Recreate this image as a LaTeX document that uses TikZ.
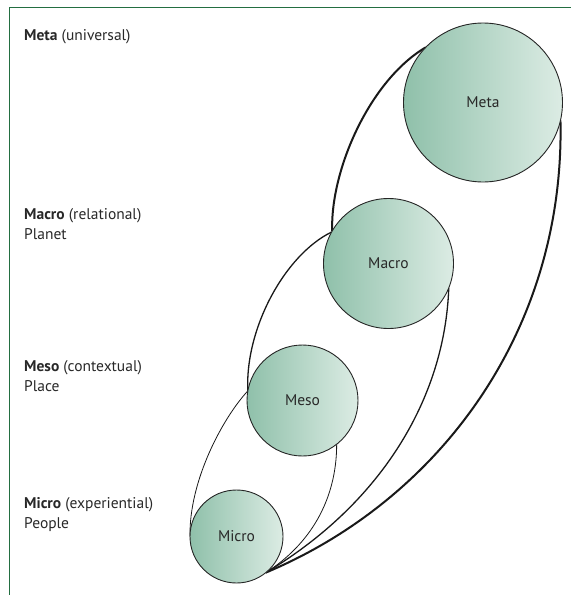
\documentclass[tikz,border=0pt]{standalone}
\usepackage{fontspec}
\setmainfont{PT Sans}
\definecolor{cl}{RGB}{143,192,170}
\definecolor{cr}{RGB}{220,236,228}
\definecolor{txt}{RGB}{40,40,40}
\definecolor{frame}{RGB}{35,110,65}
\begin{document}
\begin{tikzpicture}[x=1pt,y=-1pt,
  circ/.style={circle, draw=black!85, line width=0.9pt, left color=cl, right color=cr,
    minimum size=#1, inner sep=0pt, outer sep=0pt, font=\fontsize{15.5}{18}\selectfont, text=txt},
  envthin/.style={line width=0.8pt, draw=black!90},
  envmid/.style={line width=1.3pt, draw=black!90},
  envthick/.style={line width=2pt, draw=black!90},
  lbl/.style={anchor=base west, inner sep=0pt, font=\fontsize{15.5}{18}\selectfont, text=txt}]
\useasboundingbox (0,0) rectangle (571,595);
\draw[frame, line width=1pt] (9,595) -- (9,7) -- (571,7);

% envelopes (drawn first, circles on top)
\path (483,102.5) node[circ=159pt, draw=none, fill=none] (meta0) {}
      (388.5,263.5) node[circ=130pt, draw=none, fill=none] (macro0) {}
      (302.5,400.5) node[circ=111pt, draw=none, fill=none] (meso0) {}
      (236.5,536.5) node[circ=93pt, draw=none, fill=none] (micro0) {};

\draw[envthick] (meta0.136) .. controls +(-56,33) and +(-2,-61) .. (macro0.150);
\draw[envthick] (meta0.-13) .. controls +(4.5,210) and +(174,-73) .. (micro0.-51);
\draw[envmid] (macro0.151) .. controls +(-47,23) and +(-3,-62) .. (meso0.170);
\draw[envmid] (macro0.-22) .. controls +(-4,112) and +(114,-68) .. (micro0.-51);
\draw[envthin] (meso0.-52) .. controls +(0,56) and +(44,-28) .. (micro0.-51);
\draw[envthin] (micro0.180) .. controls +(-1,-56) and +(-25,27) .. (meso0.170);

% circles
\node[circ=159pt] (meta) at (483,102.5) {Meta};
\node[circ=130pt] (macro) at (388.5,263.5) {Macro};
\node[circ=111pt] (meso) at (302.5,400.5) {Meso};
\node[circ=93pt] (micro) at (236.5,536.5) {Micro};

% level labels
\node[lbl] (lmeta) at (24,40) {\textbf{Meta} (universal)};
\node[lbl] (lmacro) at (24,219) {\textbf{Macro} (relational)};
\node[lbl] (lmacro2) at (24,239) {Planet};
\node[lbl] (lmeso) at (24,371) {\textbf{Meso} (contextual)};
\node[lbl] (lmeso2) at (24,391) {Place};
\node[lbl] (lmicro) at (24,508) {\textbf{Micro} (experiential)};
\node[lbl] (lmicro2) at (24,528) {People};
\end{tikzpicture}
\end{document}
